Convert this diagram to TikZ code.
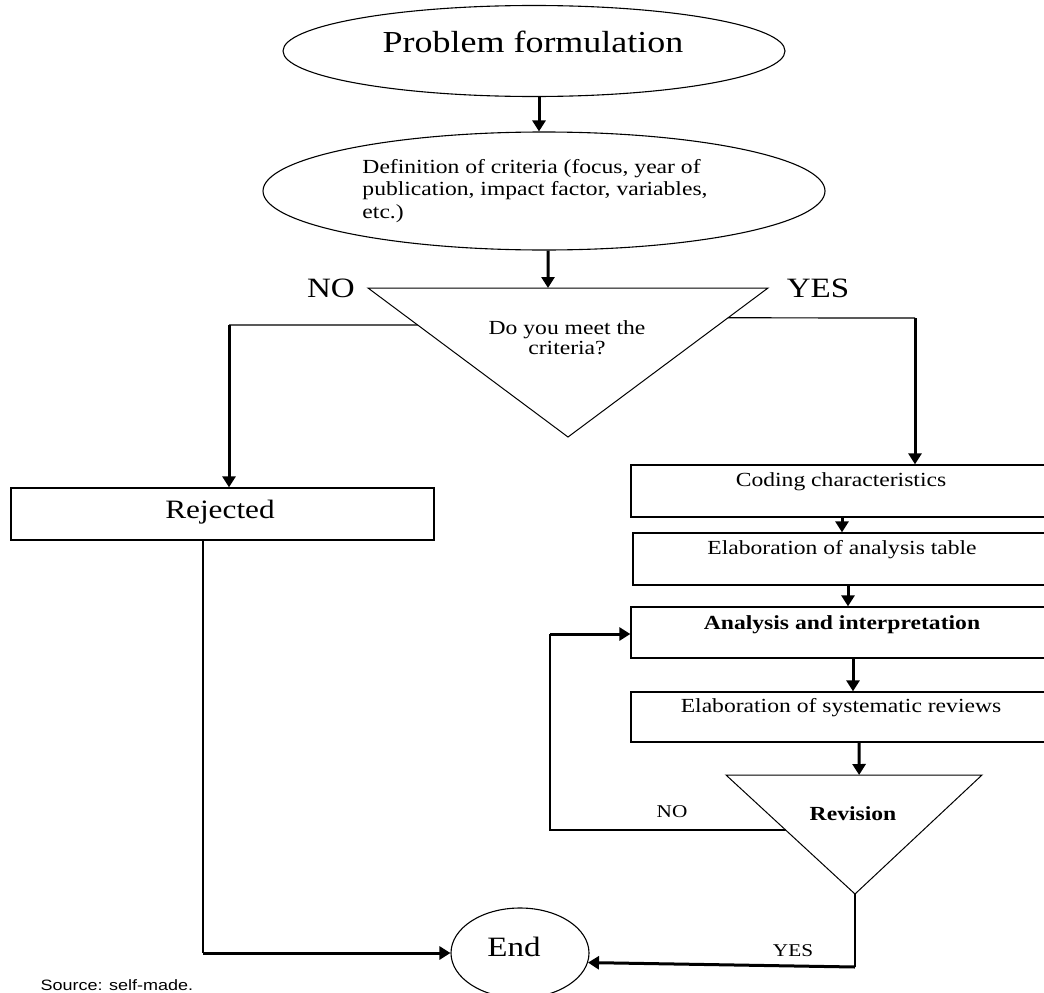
\documentclass[tikz,border=0pt]{standalone}
\usepackage{fontspec}
\usetikzlibrary{shapes.geometric,arrows.meta,calc}
\newfontfamily\tnr[FakeStretch=1.18]{Liberation Serif}
\newfontfamily\arl[FakeStretch=1.2]{Liberation Sans}
\begin{document}
\begin{tikzpicture}[x=1pt,y=-1pt,
  ln/.style={line width=1.2pt},
  arr/.style={line width=3pt,-{Triangle[length=11pt,width=13pt]}},
  boxs/.style={draw,rectangle,line width=1.3pt,inner sep=0pt},
  ell/.style={draw,ellipse,line width=1.1pt,inner sep=0pt},
  tri/.style={draw,line width=1pt},
  big/.style={font={\tnr\fontsize{30.5pt}{36pt}\selectfont}},
  mid/.style={font={\tnr\fontsize{28pt}{32pt}\selectfont}},
  txt/.style={font={\tnr\fontsize{20pt}{22.5pt}\selectfont}},
  btxt/.style={font={\tnr\bfseries\fontsize{20pt}{22.5pt}\selectfont}},
  sml/.style={font={\tnr\fontsize{18pt}{20pt}\selectfont}}]
\useasboundingbox (0,0) rectangle (1044,993);
\clip (0,0) rectangle (1044,993);

% top ellipses
\node[ell,minimum width=502pt,minimum height=91pt] (pf) at (534,51) {};
\node[big,anchor=base] (pft) at (533,52) {Problem formulation};
\node[ell,minimum width=562pt,minimum height=118pt] (def) at (544,191) {};
\node[txt,align=left] (deft) at (535,191) {Definition of criteria (focus, year of\\publication, impact factor, variables,\\etc.)};

% decision triangle
\coordinate (t1l) at (368,288);
\coordinate (t1r) at (768,288);
\coordinate (t1b) at (568,437);
\draw[tri] (t1l) -- (t1r) -- (t1b) -- cycle;
\node[font={\tnr\fontsize{20pt}{20pt}\selectfont},align=center] (t1t) at (567,338) {Do you meet the\\criteria?};
\node[mid,anchor=base] (no1) at (331,297) {NO};
\node[mid,anchor=base] (yes1) at (818,297) {YES};

% boxes
\node[boxs,minimum width=423pt,minimum height=52pt] (rej) at (222.5,514) {};
\node[font={\tnr\fontsize{26.5pt}{30pt}\selectfont},anchor=base] (rejt) at (220,518) {Rejected};

\node[boxs,minimum width=430pt,minimum height=52pt] (cod) at (846,491) {};
\node[txt] (codt) at (841,482) {Coding characteristics};
\node[boxs,minimum width=428pt,minimum height=52pt] (tab) at (847,559) {};
\node[txt] (tabt) at (842,550) {Elaboration of analysis table};
\node[boxs,minimum width=430pt,minimum height=51pt] (ana) at (846,632.5) {};
\node[btxt] (anat) at (842,625) {Analysis and interpretation};
\node[boxs,minimum width=430pt,minimum height=50pt] (sys) at (846,717) {};
\node[txt] (syst) at (841,708) {Elaboration of systematic reviews};

% revision triangle
\coordinate (r1) at (726,775);
\coordinate (r2) at (982,775);
\coordinate (r3) at (855,894);
\draw[tri] (r1) -- (r2) -- (r3) -- cycle;
\node[btxt] (revt) at (853,814) {Revision};
\node[sml] (no2) at (672,812) {NO};
\node[sml] (yes2) at (793,951) {YES};

% end
\node[ell,minimum width=138pt,minimum height=90pt] (end) at (520,953) {};
\node[mid] (endt) at (514,947) {End};

\node[font={\arl\fontsize{15pt}{17pt}\selectfont},anchor=base west] (src) at (37,990) {Source: self-made.};

% connectors
\draw[arr] ([xshift=5pt]pf.south) -- ([xshift=-5pt]def.north);
\draw[arr] ([xshift=4pt]def.south) -- ($(t1l)!0.45!(t1r)$);

\coordinate (n1) at ($(t1l)!0.248!(t1b)$);
\coordinate (n2) at (229,325);
\draw[ln] (n1) -- (n2);
\draw[arr] (n2) -- (n2 |- rej.north);

\coordinate (y1) at ($(t1r)!0.2!(t1b)$);
\coordinate (y2) at (915,318);
\draw[ln] (y1) -- (y2);
\draw[arr] (y2) -- (y2 |- cod.north);

\draw[arr] ([xshift=-4pt]cod.south) -- ([xshift=-5pt]tab.north);
\draw[arr] ([xshift=1pt]tab.south) -- ([xshift=2pt]ana.north);
\draw[arr] ([xshift=7pt]ana.south) -- ([xshift=7pt]sys.north);
\draw[arr] ([xshift=13pt]sys.south) -- ($(r1)!0.52!(r2)$);

\coordinate (l1) at ($(r1)!0.462!(r3)$);
\coordinate (l2) at (550,830);
\coordinate (l3) at (550,634);
\draw[line width=1.6pt] (l1) -- (l2) -- (l3);
\draw[arr] (l3) -- (l3 -| ana.west);

\coordinate (e1) at (203,953);
\draw[ln] (rej.south -| e1) -- (e1);
\draw[arr] (e1) -- (end.west);

\coordinate (e2) at (855,967);
\draw[ln] (r3) -- (e2);
\draw[arr] (e2) -- (end.-8);
\end{tikzpicture}
\end{document}
